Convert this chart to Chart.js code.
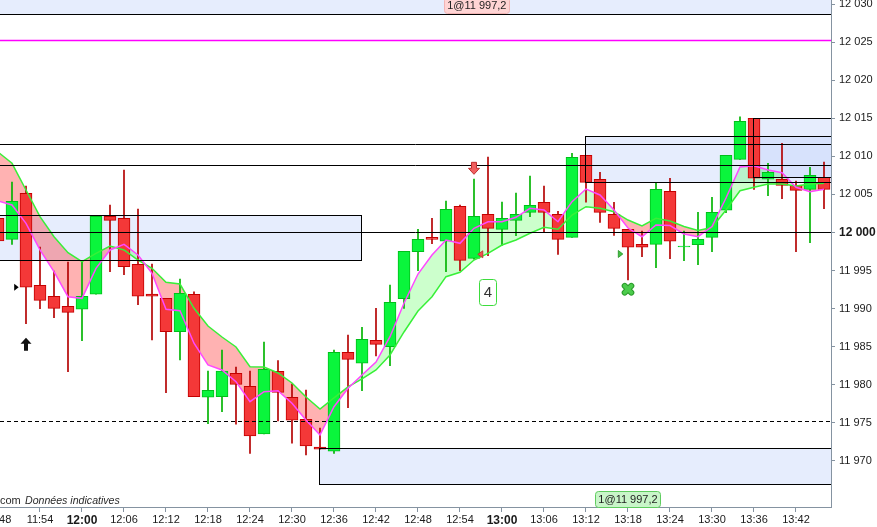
<!DOCTYPE html>
<html><head><meta charset="utf-8">
<script src="https://cdn.jsdelivr.net/npm/chart.js@4.4.1/dist/chart.umd.min.js"></script>
<style>html,body{margin:0;padding:0;background:#fff;overflow:hidden}#wrap{width:877px;height:527px}</style>
</head><body><div id="wrap"><canvas id="c" width="877" height="527"></canvas></div>
<script>
// ---- data ----
const times = ['11:48','11:50','11:52','11:54','11:56','11:58','12:00','12:02','12:04','12:06','12:08','12:10','12:12','12:14','12:16','12:18','12:20','12:22','12:24','12:26','12:28','12:30','12:32','12:34','12:36','12:38','12:40','12:42','12:44','12:46','12:48','12:50','12:52','12:54','12:56','12:58','13:00','13:02','13:04','13:06','13:08','13:10','13:12','13:14','13:16','13:18','13:20','13:22','13:24','13:26','13:28','13:30','13:32','13:34','13:36','13:38','13:40','13:42','13:44','13:46'];
const openV  = [12001.87,11999.11,12005.15,11993.07,11991.63,11990.31,11989.92,11991.89,12002.13,12001.87,11995.83,11991.93,11991.36,11986.98,11991.89,11978.37,11978.44,11981.52,11979.81,11973.55,11981.78,11978.37,11975.48,11971.84,11971.28,11984.27,11982.83,11985.85,11985.01,11991.31,11997.48,11999.37,11998.85,12003.44,11996.61,12002.39,12000.42,12001.60,12002.65,12003.97,12002.39,11999.37,12010.14,12006.99,12002.39,12000.42,11998.45,11998.45,12005.41,11998.10,11998.40,11999.37,12002.92,12009.61,12014.99,12006.99,12006.99,12006.20,12005.67,12007.25];
const highV  = [12003.00,12006.63,12006.11,11998.10,11994.95,11996.13,11996.13,12002.13,12003.61,12008.21,12003.09,11995.87,11991.36,11993.90,11992.20,11981.82,11984.57,11982.34,11981.82,11985.63,11983.17,11980.11,11979.32,11974.33,11984.57,11986.54,11987.55,11990.05,11993.11,11997.53,12000.42,12001.87,12004.14,12003.61,12007.03,12009.91,12004.00,12005.19,12007.42,12006.11,12002.78,12010.40,12010.14,12007.90,12003.97,12000.42,12000.20,12006.54,12007.12,12000.20,12002.65,12004.62,12010.14,12015.20,12014.99,12009.09,12011.71,12006.76,12008.56,12009.26];
const lowV   = [11998.00,11998.45,11988.03,11990.00,11988.82,11981.73,11985.80,11991.89,11994.85,11994.46,11990.52,11985.89,11978.97,11983.26,11978.44,11974.90,11976.47,11974.82,11971.01,11973.55,11975.25,11972.33,11970.79,11971.54,11971.01,11977.00,11979.23,11983.79,11982.51,11990.05,11994.99,11998.53,11994.85,11994.99,11996.50,11996.96,11998.32,11999.58,12002.08,12000.03,11997.14,11999.37,12003.97,12001.34,11999.63,11993.76,11996.82,11995.38,11996.56,11996.30,11995.77,11997.48,12002.60,12009.61,12005.67,12004.83,12004.44,11997.48,11998.66,12003.13];
const closeV = [11998.89,12004.10,11992.81,11991.10,11990.05,11989.52,11991.63,12002.13,12001.60,11995.51,11991.63,11991.63,11986.98,11992.02,11978.44,11979.28,11981.82,11980.07,11973.28,11982.04,11979.02,11975.35,11971.97,11971.54,11984.27,11983.35,11985.98,11985.32,11990.84,11997.53,11999.11,11999.11,12003.05,11996.35,12002.13,12000.55,12001.87,12002.39,12003.57,12002.65,11999.11,12009.87,12006.59,12002.65,12000.55,11998.06,11998.06,12005.67,11998.85,11998.22,11999.11,12002.65,12010.14,12014.60,12007.12,12007.90,12006.20,12005.54,12007.51,12005.67];
const fastMA = [12004.14,12003.61,12001.21,11997.71,11994.86,11991.57,11991.36,11995.30,11997.71,11998.45,11997.05,11994.65,11989.92,11989.74,11985.46,11982.61,11981.95,11980.42,11977.79,11979.10,11979.23,11977.58,11975.39,11973.42,11977.13,11979.55,11981.30,11983.00,11986.32,11990.71,11994.55,11997.05,11999.02,11998.58,12000.55,12001.42,12001.42,12002.00,12003.18,12002.96,12001.42,12004.05,12005.71,12004.93,12002.96,12000.59,11999.45,12000.99,12000.92,11999.81,11999.45,12000.79,12004.53,12008.60,12008.77,12008.21,12007.85,12005.94,12005.36,12005.67];
const slowMA = [12010.57,12009.09,12005.58,12002.08,11999.45,11997.35,11996.17,11997.27,11998.23,11997.71,11996.39,11995.30,11993.46,11993.24,11990.05,11987.73,11986.28,11984.97,11982.39,11982.35,11981.56,11980.24,11978.41,11976.83,11978.28,11979.72,11980.77,11981.95,11983.92,11986.94,11989.70,11991.57,11994.20,11994.78,11996.39,11997.27,11998.36,11999.02,11999.90,12000.69,12000.42,12002.30,12003.39,12003.18,12002.73,12001.64,12000.86,12001.87,12001.51,12000.79,12000.26,12000.66,12002.96,12005.49,12005.94,12006.37,12006.37,12006.11,12006.37,12006.46];
const xTickLabels = ['11:54','12:00','12:06','12:12','12:18','12:24','12:30','12:36','12:42','12:48','12:54','13:00','13:06','13:12','13:18','13:24','13:30','13:36','13:42'];
const yTickValues = [11970,11975,11980,11985,11990,11995,12000,12005,12010,12015,12020,12025,12030];
// zones (rectangles)
const zoneFrom = ['11:30','12:34','13:12','13:36','11:30'];
const zoneTo   = ['12:40','14:00','14:00','14:00','14:00'];
const zoneLow  = [11996.35,11966.95,12006.59,12007.25,12028.69];
const zoneHigh = [12002.26,11971.67,12012.67,12015.00,12040.00];
// horizontal levels
const blackLevels = [12011.58,12008.82,12000.00];
const magentaLevel = 12025.2;
const dashedLevel = 11975.17;
// markers
const markerTimes  = ['11:50.6','11:52','12:56','12:56.9','12:58','13:16.9','13:18'];
const markerValues = [11992.81,11985.33,12008.43,11997.14,11992.15,11997.18,11992.55];
const markerKinds  = ['triRightBlack','arrowUp','arrowDown','triLeftRed','count','triRightGreen','cross'];
const countText = '4';
const orderTimes = ['12:56.4','13:18'];
const orderTexts = ['1@11 997,2','1@11 997,2'];
const orderSides = ['top','bottom'];
const footerPrefix = 'com';
const footerText = 'Données indicatives';
const hiddenFirstTick = '11:48';

// ---- helpers ----
function toMin(s){ const p=s.split(':'); return Number(p[0])*60+Number(p[1]); }
function fmtTime(v){ const h=Math.floor(v/60), m=Math.round(v-h*60); return h+':'+String(m).padStart(2,'0'); }
function fmtPrice(v){ const r=Math.round(v); return Math.floor(r/1000)+' '+String(r%1000).padStart(3,'0'); }
function cp(v){ return Math.round(v-0.5)+0.5; }
const FONT = 'Arial, "Liberation Sans", sans-serif';
const isUp = i => closeV[i] >= openV[i];

const bodyData = times.map((t,i)=>({x:toMin(t), y:[openV[i], closeV[i]]}));
const wickData = times.map((t,i)=>({x:toMin(t), y:[lowV[i], highV[i]]}));
const fastData = times.map((t,i)=>({x:toMin(t), y:fastMA[i]}));
const slowData = times.map((t,i)=>({x:toMin(t), y:slowMA[i]}));

function roundRect(ctx,x,y,w,h,r){
  ctx.beginPath(); ctx.moveTo(x+r,y); ctx.lineTo(x+w-r,y); ctx.quadraticCurveTo(x+w,y,x+w,y+r);
  ctx.lineTo(x+w,y+h-r); ctx.quadraticCurveTo(x+w,y+h,x+w-r,y+h); ctx.lineTo(x+r,y+h);
  ctx.quadraticCurveTo(x,y+h,x,y+h-r); ctx.lineTo(x,y+r); ctx.quadraticCurveTo(x,y,x+r,y); ctx.closePath();
}

function drawMarker(ctx,kind,px,py){
  ctx.save();
  if(kind==='triRightBlack'||kind==='triRightGreen'){
    ctx.beginPath(); ctx.moveTo(px-2,py-3.5); ctx.lineTo(px+2.5,py); ctx.lineTo(px-2,py+3.5); ctx.closePath();
    ctx.fillStyle = kind==='triRightBlack' ? '#000' : '#44c044'; ctx.fill();
    if(kind==='triRightGreen'){ ctx.strokeStyle='#1f8f1f'; ctx.lineWidth=0.8; ctx.stroke(); }
  } else if(kind==='triLeftRed'){
    ctx.beginPath(); ctx.moveTo(px+2.5,py-3.5); ctx.lineTo(px-2.5,py); ctx.lineTo(px+2.5,py+3.5); ctx.closePath();
    ctx.fillStyle='#f05050'; ctx.fill(); ctx.strokeStyle='#c02a2a'; ctx.lineWidth=0.8; ctx.stroke();
  } else if(kind==='arrowUp'){
    ctx.beginPath();
    ctx.moveTo(px,py-6.5); ctx.lineTo(px+5.5,py-0.5); ctx.lineTo(px+2,py-0.5); ctx.lineTo(px+2,py+6.5);
    ctx.lineTo(px-2,py+6.5); ctx.lineTo(px-2,py-0.5); ctx.lineTo(px-5.5,py-0.5); ctx.closePath();
    ctx.fillStyle='#111'; ctx.fill();
  } else if(kind==='arrowDown'){
    ctx.beginPath();
    ctx.moveTo(px-2.5,py-6); ctx.lineTo(px+2.5,py-6); ctx.lineTo(px+2.5,py); ctx.lineTo(px+5.5,py);
    ctx.lineTo(px,py+6); ctx.lineTo(px-5.5,py); ctx.lineTo(px-2.5,py); ctx.closePath();
    ctx.fillStyle='#f06060'; ctx.fill(); ctx.strokeStyle='#c03030'; ctx.lineWidth=1; ctx.stroke();
  } else if(kind==='count'){
    roundRect(ctx,Math.round(px-8.5)+0.5,Math.round(py-13)+0.5,17,26,3);
    ctx.fillStyle='#fff'; ctx.fill(); ctx.strokeStyle='#3ddc3d'; ctx.lineWidth=1; ctx.stroke();
    ctx.fillStyle='#333'; ctx.font='15px '+FONT; ctx.textAlign='center'; ctx.textBaseline='middle';
    ctx.fillText(countText,px,py+1);
  } else if(kind==='cross'){
    ctx.lineCap='round';
    ctx.beginPath(); ctx.moveTo(px-3.3,py-3.3); ctx.lineTo(px+3.3,py+3.3); ctx.moveTo(px+3.3,py-3.3); ctx.lineTo(px-3.3,py+3.3);
    ctx.strokeStyle='#2a9a2a'; ctx.lineWidth=6; ctx.stroke();
    ctx.strokeStyle='#4ccc4c'; ctx.lineWidth=4; ctx.stroke();
  }
  ctx.restore();
}

const overlay = {
  id:'overlay',
  beforeDraw(chart){
    const {ctx, chartArea:a, scales:{x,y}} = chart;
    ctx.save(); ctx.beginPath(); ctx.rect(a.left,a.top,a.right-a.left,a.bottom-a.top); ctx.clip();
    for(let i=0;i<zoneFrom.length;i++){
      const x0=x.getPixelForValue(toMin(zoneFrom[i])), x1=x.getPixelForValue(toMin(zoneTo[i]));
      const y0=y.getPixelForValue(zoneHigh[i]), y1=y.getPixelForValue(zoneLow[i]);
      ctx.fillStyle='rgba(196,212,250,0.42)';
      ctx.fillRect(x0,y0,x1-x0,y1-y0);
    }
    ctx.fillStyle='#2a2a2a'; ctx.textBaseline='middle';
    ctx.font='11px '+FONT; ctx.textAlign='left';
    ctx.fillText(footerPrefix, a.left, a.bottom-6);
    ctx.font='italic 10.6px '+FONT;
    ctx.fillText(footerText, a.left+25, a.bottom-6);
    ctx.restore();
  },
  afterDatasetsDraw(chart){
    const {ctx, chartArea:a, scales:{x,y}} = chart;
    ctx.save(); ctx.beginPath(); ctx.rect(a.left,a.top,a.right-a.left,a.bottom-a.top); ctx.clip();
    ctx.strokeStyle='#000'; ctx.lineWidth=1;
    for(let i=0;i<zoneFrom.length;i++){
      const x0=cp(x.getPixelForValue(toMin(zoneFrom[i]))), x1=cp(x.getPixelForValue(toMin(zoneTo[i])));
      const y0=cp(y.getPixelForValue(zoneHigh[i])), y1=cp(y.getPixelForValue(zoneLow[i]));
      ctx.strokeRect(x0,y0,x1-x0,y1-y0);
    }
    blackLevels.forEach(v=>{ const py=cp(y.getPixelForValue(v)); ctx.beginPath(); ctx.moveTo(a.left,py); ctx.lineTo(a.right,py); ctx.stroke(); });
    { const py=cp(y.getPixelForValue(magentaLevel)); ctx.strokeStyle='#ff00ff'; ctx.lineWidth=1.3; ctx.beginPath(); ctx.moveTo(a.left,py); ctx.lineTo(a.right,py); ctx.stroke(); }
    { const py=cp(y.getPixelForValue(dashedLevel)); ctx.strokeStyle='#000'; ctx.lineWidth=1; ctx.setLineDash([4,3]); ctx.beginPath(); ctx.moveTo(a.left,py); ctx.lineTo(a.right,py); ctx.stroke(); ctx.setLineDash([]); }
    for(let i=0;i<markerKinds.length;i++){
      drawMarker(ctx, markerKinds[i], x.getPixelForValue(toMin(markerTimes[i])), y.getPixelForValue(markerValues[i]));
    }
    ctx.restore();
  },
  afterDraw(chart){
    const {ctx, chartArea:a, scales:{x}} = chart;
    ctx.save();
    ctx.font='11px '+FONT; ctx.textAlign='center'; ctx.textBaseline='middle'; ctx.fillStyle='#1a1a1a';
    ctx.fillText(hiddenFirstTick, x.getPixelForValue(toMin(hiddenFirstTick)), a.bottom+13);
    for(let i=0;i<orderTimes.length;i++){
      const px=x.getPixelForValue(toMin(orderTimes[i]));
      ctx.font='11px '+FONT;
      const w=Math.round(ctx.measureText(orderTexts[i]).width)+6, h=16;
      const bx=Math.round(px-w/2)+0.5;
      const by = orderSides[i]==='top' ? a.top-2.5 : a.bottom-h+0.5;
      roundRect(ctx,bx,by,w,h,3);
      if(orderSides[i]==='top'){ ctx.fillStyle='#ffd4d4'; ctx.strokeStyle='#f2b4b4'; }
      else { ctx.fillStyle='#c9f5c9'; ctx.strokeStyle='#5fcc5f'; }
      ctx.lineWidth=1; ctx.fill(); ctx.stroke();
      ctx.fillStyle='#1e1e1e'; ctx.textAlign='center'; ctx.textBaseline='middle';
      ctx.fillText(orderTexts[i], px, by+h/2+0.5);
    }
    ctx.restore();
  }
};

Chart.defaults.font.family = FONT;
Chart.defaults.font.size = 11;
const axisColor = '#8593a1';
function noPad(s){ s.paddingTop=0; s.paddingBottom=0; s.paddingLeft=0; s.paddingRight=0; }

new Chart(document.getElementById('c'), {
  type:'bar',
  data:{ datasets:[
    { type:'bar', label:'wick', data:wickData, grouped:false, barThickness:1, order:4,
      backgroundColor: times.map((t,i)=> isUp(i)?'#00b400':'#b40000'), borderWidth:0 },
    { type:'bar', label:'body', data:bodyData, grouped:false, barThickness:12, order:3,
      backgroundColor: times.map((t,i)=> isUp(i)?'#0af53c':'#f43838'),
      borderColor: times.map((t,i)=> isUp(i)?'#00bf1a':'#c40000'),
      borderWidth:1, borderSkipped:false },
    { type:'line', label:'fast', data:fastData, borderColor:'#ff48ff', borderWidth:1.5, pointRadius:0, tension:0, order:1, fill:false },
    { type:'line', label:'slow', data:slowData, borderColor:'#38f038', borderWidth:1.5, pointRadius:0, tension:0, order:2,
      fill:{ target:2, above:'rgba(255,0,0,0.3)', below:'rgba(0,255,0,0.2)' } }
  ]},
  options:{
    responsive:false, animation:false, events:[],
    layout:{ padding:0 },
    plugins:{ legend:{display:false}, tooltip:{enabled:false}, filler:{ propagate:false, drawTime:'beforeDatasetsDraw' } },
    scales:{
      x:{ type:'linear', min:708.286, max:827, offset:false,
        afterBuildTicks: s => { s.ticks = xTickLabels.map(t=>({value:toMin(t)})); },
        afterFit: s => { s.height = 20; noPad(s); },
        ticks:{ autoSkip:false, maxRotation:0, padding:1, color:'#1a1a1a',
          callback: v => fmtTime(v),
          font: c => (c.tick && c.tick.value % 60 === 0) ? {size:12, weight:'bold'} : {size:11} },
        grid:{ drawOnChartArea:false, offset:false, tickLength:5, color:axisColor },
        border:{ color:axisColor, width:1 } },
      y:{ type:'linear', position:'right', min:11963.96, max:12030.53, beginAtZero:false,
        afterBuildTicks: s => { s.ticks = yTickValues.map(v=>({value:v})); },
        afterFit: s => { s.width = 46; noPad(s); },
        ticks:{ padding:4, color:'#1a1a1a', callback: v => fmtPrice(v),
          font: c => (c.tick && c.tick.value === 12000) ? {size:12, weight:'bold'} : {size:11} },
        grid:{ drawOnChartArea:false, tickLength:4, color:axisColor },
        border:{ color:axisColor, width:1 } }
    }
  },
  plugins:[overlay]
});
</script></body></html>
